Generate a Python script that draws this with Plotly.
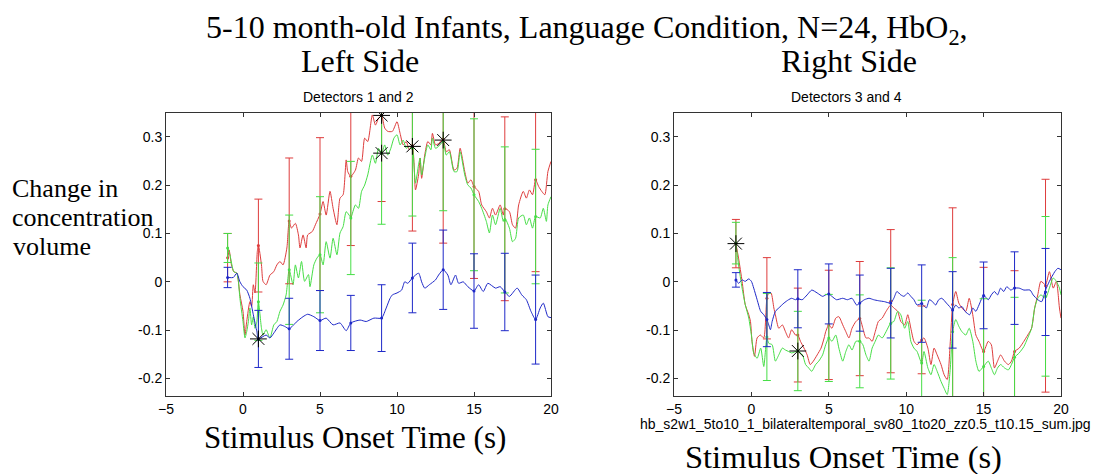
import plotly.graph_objects as go

# ---------------- data ----------------
ERR_X = [-1, 1, 3, 5, 7, 9, 11, 13, 15, 17, 19]

# Left side (Detectors 1 and 2)
L_BLUE_X = [-1, -0.63, -0.4, -0.2, 0, 0.24, 0.45, 0.67, 0.9, 1, 1.5, 1.75, 2, 2.4, 2.7, 3, 3.5, 3.9, 4.2, 4.6, 5,
            5.4, 5.85, 6.3, 6.7, 7, 7.6, 8, 8.5, 9, 9.3, 9.55, 9.7, 10, 10.3, 10.5, 10.7, 11, 11.4, 11.6, 11.8, 12.1,
            12.5, 12.7, 13, 13.3, 13.5, 13.8, 14, 14.3, 14.6, 15, 15.3, 15.6, 15.9, 16.4, 16.7, 17, 17.3, 17.8, 18.1,
            18.4, 18.7, 19, 19.3, 19.5, 19.8, 20]
L_BLUE_Y = [0.009, 0.009, 0.018, 0.0, -0.010, -0.017, -0.034, -0.068, -0.103, -0.118, -0.110, -0.116, -0.106, -0.089,
            -0.092, -0.097, -0.082, -0.072, -0.067, -0.072, -0.080, -0.075, -0.089, -0.085, -0.101, -0.085, -0.079,
            -0.082, -0.075, -0.075, -0.054, -0.034, -0.027, -0.023, -0.017, 0.0, -0.003, 0.008, 0.018, 0.0, -0.013,
            -0.006, 0.004, 0.014, 0.025, 0.014, -0.006, 0.014, -0.003, 0.0, -0.010, -0.019, -0.006, -0.020, -0.003,
            -0.013, -0.010, -0.021, -0.030, -0.013, -0.027, -0.037, -0.061, -0.078, -0.054, -0.044, -0.072, -0.074]
L_BLUE_MEAN = [0.009, -0.118, -0.097, -0.080, -0.085, -0.075, 0.008, 0.025, -0.019, -0.021, -0.078]
L_BLUE_ERR = [0.021, 0.059, 0.063, 0.062, 0.057, 0.069, 0.072, 0.082, 0.077, 0.080, 0.092]

L_RED_X = [-1, -0.9, -0.75, -0.6, -0.4, -0.2, 0, 0.13, 0.24, 0.45, 0.56, 0.67, 0.78, 0.93, 1, 1.2, 1.3, 1.5, 1.75, 2,
           2.2, 2.4, 2.6, 2.85, 3, 3.15, 3.4, 3.6, 3.7, 3.9, 4.1, 4.2, 4.5, 4.7, 5, 5.2, 5.4, 5.65, 5.85, 6.1, 6.3,
           6.5, 6.7, 6.8, 7, 7.3, 7.5, 7.7, 7.9, 8.1, 8.4, 8.6, 8.8, 9, 9.2, 9.4, 9.7, 10, 10.2, 10.4, 10.6, 10.8,
           11, 11.1, 11.2, 11.4, 11.5, 11.6, 11.8, 12, 12.2, 12.3, 12.5, 12.7, 12.9, 13, 13.2, 13.4, 13.7, 13.9,
           14.1, 14.4, 14.6, 14.8, 15, 15.3, 15.5, 15.8, 16, 16.2, 16.4, 16.7, 16.9, 17, 17.3, 17.5, 17.7, 17.9,
           18.2, 18.4, 18.6, 18.8, 19, 19.2, 19.4, 19.6, 19.8, 20]
L_RED_Y = [0.045, 0.066, 0.035, 0.021, 0.018, -0.027, -0.061, -0.110, -0.082, -0.041, -0.051, -0.006, -0.023, 0.063,
           0.076, 0.035, 0.001, -0.006, 0.014, 0.021, 0.035, 0.042, 0.035, 0.070, 0.126, 0.111, 0.121, 0.097, 0.070,
           0.097, 0.070, 0.097, 0.104, 0.118, 0.140, 0.166, 0.138, 0.187, 0.152, 0.118, 0.173, 0.180, 0.252, 0.228,
           0.218, 0.231, 0.256, 0.249, 0.297, 0.290, 0.345, 0.324, 0.338, 0.344, 0.318, 0.311, 0.311, 0.331, 0.307,
           0.283, 0.290, 0.273, 0.282, 0.249, 0.190, 0.221, 0.256, 0.214, 0.262, 0.290, 0.283, 0.307, 0.283, 0.286,
           0.293, 0.295, 0.269, 0.273, 0.231, 0.235, 0.276, 0.228, 0.204, 0.211, 0.197, 0.187, 0.159, 0.145, 0.132,
           0.152, 0.138, 0.159, 0.138, 0.152, 0.145, 0.118, 0.111, 0.159, 0.187, 0.173, 0.190, 0.180, 0.211, 0.197,
           0.187, 0.180, 0.228, 0.249]
L_RED_MEAN = [0.050, 0.075, 0.126, 0.140, 0.218, 0.344, 0.282, 0.295, 0.197, 0.151, 0.211]
L_RED_ERR = [0.050, 0.096, 0.130, 0.158, 0.143, 0.178, 0.177, 0.215, 0.190, 0.190, 0.190]

L_GREEN_X = [-1, -0.85, -0.6, -0.4, -0.3, -0.2, 0, 0.13, 0.24, 0.35, 0.45, 0.56, 0.67, 0.78, 0.9, 1, 1.2, 1.3, 1.5,
             1.75, 2, 2.2, 2.4, 2.6, 2.8, 3, 3.25, 3.4, 3.6, 3.8, 4, 4.25, 4.35, 4.6, 4.8, 5, 5.2, 5.4, 5.65, 5.85,
             6.1, 6.3, 6.5, 6.7, 6.95, 7, 7.3, 7.5, 7.7, 7.9, 8.1, 8.4, 8.6, 8.8, 9, 9.2, 9.4, 9.6, 9.8, 10, 10.2,
             10.4, 10.6, 10.8, 11, 11.1, 11.2, 11.4, 11.5, 11.6, 11.8, 12, 12.2, 12.3, 12.5, 12.7, 12.9, 13, 13.2,
             13.4, 13.7, 13.9, 14.1, 14.4, 14.6, 14.8, 15, 15.3, 15.5, 15.8, 16, 16.2, 16.4, 16.7, 16.9, 17, 17.3,
             17.5, 17.7, 17.9, 18.2, 18.4, 18.6, 18.8, 19, 19.3, 19.5, 19.7, 19.8, 20]
L_GREEN_Y = [0.071, 0.056, 0.021, 0.018, 0.001, -0.034, -0.082, -0.116, -0.103, -0.082, -0.054, -0.089, -0.072,
             -0.096, -0.082, -0.041, -0.096, -0.110, -0.099, -0.116, -0.089, -0.082, -0.061, -0.048, -0.027, 0.025,
             -0.006, 0.035, 0.008, 0.042, 0.001, 0.015, -0.010, 0.035, 0.049, 0.056, 0.035, 0.083, 0.049, 0.090,
             0.056, 0.101, 0.114, 0.145, 0.135, 0.132, 0.159, 0.152, 0.187, 0.200, 0.221, 0.262, 0.245, 0.276, 0.266,
             0.283, 0.262, 0.276, 0.297, 0.304, 0.283, 0.293, 0.276, 0.280, 0.276, 0.242, 0.204, 0.242, 0.256, 0.221,
             0.256, 0.283, 0.273, 0.297, 0.276, 0.280, 0.287, 0.290, 0.262, 0.269, 0.228, 0.228, 0.269, 0.221, 0.200,
             0.194, 0.180, 0.166, 0.152, 0.125, 0.101, 0.138, 0.118, 0.152, 0.125, 0.132, 0.111, 0.083, 0.090, 0.132,
             0.138, 0.118, 0.132, 0.111, 0.135, 0.132, 0.152, 0.125, 0.159, 0.176]
L_GREEN_MEAN = [0.070, -0.041, 0.025, 0.056, 0.132, 0.266, 0.276, 0.290, 0.180, 0.128, 0.135]
L_GREEN_ERR = [0.030, 0.080, 0.113, 0.120, 0.117, 0.147, 0.140, 0.143, 0.157, 0.151, 0.139]

L_STAR_X = [1, 9, 9, 11, 13]
L_STAR_Y = [-0.118, 0.344, 0.266, 0.280, 0.293]

# Right side (Detectors 3 and 4)
R_BLUE_X = [-1, -0.83, -0.6, -0.4, -0.17, 0, 0.15, 0.37, 0.6, 0.8, 1, 1.12, 1.23, 1.34, 1.55, 1.77, 2.1, 2.4, 2.6,
            2.85, 3, 3.28, 3.6, 3.9, 4.25, 4.6, 4.8, 5, 5.2, 5.5, 5.9, 6.2, 6.5, 6.8, 7, 7.3, 7.6, 7.9, 8.2, 8.6, 9,
            9.2, 9.4, 9.65, 9.86, 10.1, 10.3, 10.5, 10.7, 11, 11.3, 11.5, 11.7, 11.9, 12.1, 12.3, 12.6, 12.8, 13,
            13.2, 13.4, 13.6, 13.8, 14.1, 14.3, 14.5, 14.7, 15, 15.3, 15.5, 15.7, 15.9, 16.1, 16.3, 16.5, 16.75, 17,
            17.3, 17.6, 18, 18.2, 18.5, 18.75, 19, 19.25, 19.6, 19.8, 20]
R_BLUE_Y = [0.004, -0.003, 0.004, 0.001, 0.006, 0.001, -0.013, -0.037, -0.061, -0.068, -0.078, -0.089, -0.099,
            -0.082, -0.061, -0.054, -0.044, -0.037, -0.034, -0.037, -0.035, -0.037, -0.027, -0.017, -0.023, -0.030,
            -0.027, -0.025, -0.030, -0.037, -0.034, -0.037, -0.034, -0.048, -0.044, -0.037, -0.034, -0.037, -0.039,
            -0.041, -0.044, -0.034, -0.020, -0.027, -0.030, -0.023, -0.030, -0.037, -0.048, -0.045, -0.054, -0.037,
            -0.041, -0.048, -0.037, -0.034, -0.044, -0.051, -0.058, -0.048, -0.054, -0.051, -0.061, -0.068, -0.054,
            -0.061, -0.048, -0.028, -0.037, -0.027, -0.020, -0.027, -0.013, -0.020, -0.010, -0.017, -0.013, -0.013,
            -0.017, -0.017, -0.027, -0.037, -0.041, -0.017, 0.001, 0.021, 0.028, 0.025]
R_BLUE_MEAN = [0.004, -0.078, -0.035, -0.025, -0.044, -0.044, -0.045, -0.058, -0.028, -0.013, -0.021]
R_BLUE_ERR = [0.015, 0.056, 0.060, 0.062, 0.058, 0.072, 0.080, 0.079, 0.069, 0.075, 0.090]

R_RED_X = [-1, -0.83, -0.6, -0.4, -0.17, -0.06, 0.04, 0.2, 0.37, 0.58, 0.8, 1, 1.12, 1.27, 1.45, 1.55, 1.77, 2, 2.2,
           2.4, 2.6, 2.85, 3, 3.17, 3.4, 3.6, 3.8, 4, 4.25, 4.5, 4.7, 4.8, 5, 5.2, 5.45, 5.65, 5.9, 6.1, 6.3, 6.5,
           6.75, 7, 7.2, 7.4, 7.6, 7.8, 8, 8.2, 8.45, 8.7, 9, 9.2, 9.45, 9.65, 9.9, 10.1, 10.3, 10.5, 10.7, 11,
           11.15, 11.4, 11.6, 11.8, 12, 12.25, 12.45, 12.65, 12.85, 13, 13.2, 13.4, 13.6, 13.85, 14.07, 14.3, 14.5,
           14.7, 15, 15.3, 15.5, 15.7, 15.9, 16.1, 16.35, 16.6, 16.8, 17, 17.3, 17.6, 17.85, 18.1, 18.3, 18.5, 18.7,
           19, 19.25, 19.5, 19.7, 19.9, 20]
R_RED_Y = [0.079, 0.049, 0.001, -0.047, -0.068, -0.082, -0.123, -0.154, -0.116, -0.110, -0.116, -0.034, -0.023,
           -0.023, -0.054, -0.068, -0.096, -0.089, -0.103, -0.116, -0.099, -0.110, -0.110, -0.123, -0.137, -0.151,
           -0.171, -0.164, -0.151, -0.137, -0.116, -0.103, -0.089, -0.096, -0.075, -0.072, -0.089, -0.103, -0.116,
           -0.096, -0.082, -0.076, -0.096, -0.116, -0.116, -0.123, -0.103, -0.082, -0.075, -0.061, -0.048, -0.054,
           -0.061, -0.082, -0.089, -0.068, -0.096, -0.123, -0.130, -0.120, -0.116, -0.137, -0.171, -0.137, -0.151,
           -0.171, -0.192, -0.202, -0.123, -0.048, -0.020, -0.044, -0.054, -0.061, -0.034, -0.068, -0.110, -0.123,
           -0.144, -0.123, -0.130, -0.178, -0.164, -0.151, -0.164, -0.171, -0.164, -0.144, -0.137, -0.123, -0.110,
           -0.096, -0.054, -0.027, 0.001, -0.006, 0.021, -0.013, 0.001, -0.054, -0.075]
R_RED_MEAN = [0.079, -0.034, -0.110, -0.089, -0.076, -0.040, -0.120, -0.047, -0.144, -0.144, -0.008]
R_RED_ERR = [0.050, 0.084, 0.097, 0.113, 0.118, 0.148, 0.070, 0.200, 0.174, 0.167, 0.220]

R_GREEN_X = [-1, -0.83, -0.6, -0.4, -0.17, 0, 0.15, 0.37, 0.6, 0.8, 1, 1.12, 1.34, 1.55, 1.77, 2, 2.2, 2.4, 2.6, 3,
             3.3, 3.5, 3.7, 3.9, 4.15, 4.35, 4.6, 4.8, 5, 5.2, 5.45, 5.65, 5.9, 6.1, 6.3, 6.5, 6.75, 7, 7.2, 7.4, 7.6,
             7.8, 8, 8.2, 8.45, 8.7, 9, 9.2, 9.45, 9.65, 9.9, 10.1, 10.3, 10.5, 10.7, 11, 11.15, 11.4, 11.6, 11.8,
             12, 12.25, 12.45, 12.65, 12.85, 13, 13.2, 13.4, 13.6, 13.85, 14.07, 14.3, 14.5, 14.7, 15, 15.3, 15.5,
             15.7, 15.9, 16.1, 16.35, 16.6, 16.8, 17, 17.3, 17.6, 17.85, 18.1, 18.3, 18.5, 18.7, 19, 19.25, 19.5,
             19.7, 19.9, 20]
R_GREEN_Y = [0.079, 0.035, -0.013, -0.047, -0.075, -0.110, -0.147, -0.158, -0.137, -0.175, -0.116, -0.127, -0.130,
             -0.164, -0.151, -0.137, -0.141, -0.144, -0.147, -0.143, -0.151, -0.171, -0.178, -0.185, -0.171, -0.164,
             -0.151, -0.130, -0.116, -0.123, -0.110, -0.137, -0.164, -0.144, -0.130, -0.141, -0.123, -0.123, -0.130,
             -0.151, -0.164, -0.137, -0.123, -0.110, -0.116, -0.103, -0.085, -0.082, -0.061, -0.068, -0.096, -0.082,
             -0.123, -0.137, -0.144, -0.168, -0.144, -0.178, -0.192, -0.171, -0.185, -0.206, -0.220, -0.233, -0.178,
             -0.103, -0.078, -0.092, -0.103, -0.110, -0.096, -0.123, -0.164, -0.185, -0.175, -0.164, -0.178, -0.192,
             -0.178, -0.171, -0.178, -0.182, -0.171, -0.156, -0.147, -0.134, -0.116, -0.096, -0.054, -0.034, -0.027,
             -0.034, -0.013, 0.008, 0.001, -0.013, -0.027]
R_GREEN_MEAN = [0.080, -0.114, -0.143, -0.116, -0.123, -0.086, -0.168, -0.103, -0.175, -0.156, -0.030]
R_GREEN_ERR = [0.043, 0.090, 0.082, 0.090, 0.096, 0.115, 0.130, 0.153, 0.140, 0.124, 0.165]

R_STAR_X = [-1, 3]
R_STAR_Y = [0.079, -0.143]

X_TICKS = [-5, 0, 5, 10, 15, 20]
Y_TICKS = [-0.2, -0.1, 0, 0.1, 0.2, 0.3]
Y_TICK_TEXT = ["-0.2", "-0.1", "0", "0.1", "0.2", "0.3"]

# ---------------- styling ----------------
RED = "rgb(222,60,60)"
GREEN = "rgb(70,222,70)"
BLUE = "rgb(30,40,200)"
PAGE_W, PAGE_H = 1101, 474
OFF = 8  # the page body margin that offsets the figure inside the window
W, H = PAGE_W - OFF, PAGE_H - OFF


def px(p):  # window x pixel -> paper fraction
    return (p - OFF) / W


def py(p):  # window y pixel -> paper fraction
    return 1 - (p - OFF) / H


fig = go.Figure()


def add_panel(xa, ya, series, stars_x, stars_y):
    for (lx, ly, mean, err, col) in series:
        fig.add_trace(go.Scatter(x=lx, y=ly, mode="lines", line=dict(color=col, width=1, shape="spline",
                                                                    smoothing=0.6),
                                 xaxis=xa, yaxis=ya, showlegend=False, hoverinfo="skip"))
    for (lx, ly, mean, err, col) in series:
        fig.add_trace(go.Scatter(x=ERR_X, y=mean, mode="markers",
                                 marker=dict(color=col, size=3),
                                 error_y=dict(type="data", array=err, color=col, thickness=1, width=4),
                                 xaxis=xa, yaxis=ya, showlegend=False, hoverinfo="skip"))
    fig.add_trace(go.Scatter(x=stars_x, y=stars_y, mode="markers",
                             marker=dict(symbol="asterisk-open", size=14, color="black",
                                         line=dict(color="black", width=1)),
                             xaxis=xa, yaxis=ya, showlegend=False, hoverinfo="skip"))


add_panel("x", "y", [(L_RED_X, L_RED_Y, L_RED_MEAN, L_RED_ERR, RED),
                     (L_GREEN_X, L_GREEN_Y, L_GREEN_MEAN, L_GREEN_ERR, GREEN),
                     (L_BLUE_X, L_BLUE_Y, L_BLUE_MEAN, L_BLUE_ERR, BLUE)], L_STAR_X, L_STAR_Y)
add_panel("x2", "y2", [(R_RED_X, R_RED_Y, R_RED_MEAN, R_RED_ERR, RED),
                       (R_GREEN_X, R_GREEN_Y, R_GREEN_MEAN, R_GREEN_ERR, GREEN),
                       (R_BLUE_X, R_BLUE_Y, R_BLUE_MEAN, R_BLUE_ERR, BLUE)], R_STAR_X, R_STAR_Y)

tickfont = dict(family="Liberation Sans, Arial", size=14, color="black")
axis_common = dict(showgrid=False, zeroline=False, showline=True, linecolor="#333333", linewidth=1,
                   mirror="ticks", ticks="inside", ticklen=4, tickcolor="#333333", tickfont=tickfont,
                   automargin=False)

ydom = [py(396), py(113)]
fig.update_layout(
    template="none",
    width=W, height=H, margin=dict(l=0, r=0, t=0, b=0, pad=0, autoexpand=False),
    paper_bgcolor="white", plot_bgcolor="white", showlegend=False,
    xaxis=dict(domain=[px(166), px(551)], range=[-5, 20], tickvals=X_TICKS, anchor="y", **axis_common),
    yaxis=dict(domain=ydom, range=[-0.236, 0.349], tickvals=Y_TICKS, ticktext=Y_TICK_TEXT, anchor="x",
               **axis_common),
    xaxis2=dict(domain=[px(674), px(1061)], range=[-5, 20], tickvals=X_TICKS, anchor="y2", **axis_common),
    yaxis2=dict(domain=ydom, range=[-0.236, 0.349], tickvals=Y_TICKS, ticktext=Y_TICK_TEXT, anchor="x2",
                **axis_common),
)

serif = "Liberation Serif, Times New Roman, serif"
sans = "Liberation Sans, Arial, sans-serif"


def txt(x, y, s, size, family, yanchor="middle"):
    fig.add_annotation(x=px(x), y=py(y), xref="paper", yref="paper", text=s, showarrow=False,
                       xanchor="center", yanchor=yanchor, font=dict(family=family, size=size, color="black"))


txt(587, 30, "5-10 month-old Infants, Language Condition, N=24, HbO<sub>2</sub>,", 32, serif)
txt(360, 61, "Left Side", 32, serif)
txt(849, 61, "Right Side", 32, serif)
txt(358, 97, "Detectors 1 and 2", 14, sans)
txt(846, 97, "Detectors 3 and 4", 14, sans)
txt(65, 188, "Change in", 26, serif)
txt(83, 217, "concentration", 26, serif)
txt(52, 246, "volume", 26, serif)
txt(355, 437, "Stimulus Onset Time (s)", 31, serif)
txt(865, 424, "hb_s2w1_5to10_1_bilateraltemporal_sv80_1to20_zz0.5_t10.15_sum.jpg", 14, sans)
txt(843, 457, "Stimulus Onset Time (s)", 32.5, serif)

fig.write_html("out.html")
